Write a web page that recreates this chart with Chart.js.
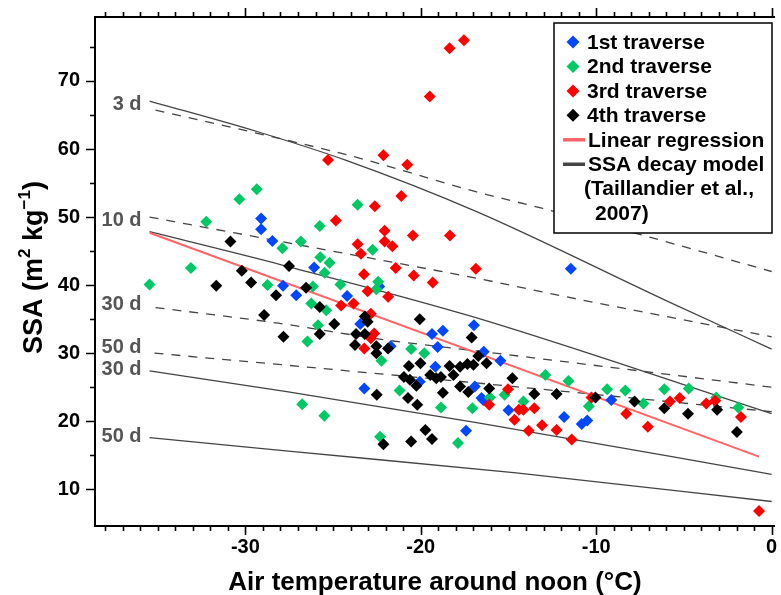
<!DOCTYPE html>
<html>
<head>
<meta charset="utf-8">
<title>SSA vs air temperature</title>
<script src="https://cdn.jsdelivr.net/npm/chart.js@4.4.1/dist/chart.umd.min.js"></script>
<style>
  html, body { margin: 0; padding: 0; background: #fff; }
  #wrap { width: 781px; height: 595px; position: relative; }
</style>
</head>
<body>
<div id="wrap"><canvas id="chartSSA"></canvas></div>
<script>
// values: air temperature around noon (°C) / SSA (m2 kg-1)
const tempT1 = [-29.1, -29.1, -28.46, -27.85, -27.1, -26.08, -24.2, -22.37, -23.45, -21.72, -19.36, -18.74, -19.04, -16.97, -19.17, -20.06, -16.92, -23.22, -17.42, -16.44, -15.0, -16.41, -15.46, -16.54, -11.83, -10.83, -10.51, -9.14, -11.45];
const ssaT1 = [49.8, 48.2, 46.5, 39.9, 38.5, 42.6, 38.4, 39.8, 34.3, 31.0, 32.8, 33.3, 30.9, 34.1, 28.0, 25.8, 25.1, 24.8, 18.6, 23.1, 21.6, 30.2, 28.9, 23.4, 20.6, 19.6, 20.1, 23.1, 42.4];

const tempT2 = [-29.35, -30.34, -32.23, -33.1, -35.46, -28.74, -27.89, -23.6, -25.76, -26.84, -22.75, -25.73, -25.2, -25.48, -24.58, -22.43, -22.54, -26.15, -26.24, -25.39, -25.86, -26.46, -22.24, -20.55, -19.8, -21.21, -18.85, -17.06, -26.76, -25.5, -17.88, -22.32, -12.9, -11.58, -16.06, -15.22, -14.15, -10.42, -9.38, -8.34, -7.31, -6.12, -4.73, -3.16, -1.9];
const ssaT2 = [54.1, 52.6, 49.3, 42.5, 40.1, 40.0, 45.4, 51.8, 48.7, 46.4, 45.2, 44.1, 43.3, 41.8, 40.1, 40.5, 39.4, 39.8, 37.3, 36.3, 34.1, 31.7, 28.9, 30.6, 30.0, 24.5, 22.0, 21.9, 22.5, 20.8, 16.8, 17.7, 26.8, 25.9, 23.5, 23.9, 22.9, 22.2, 24.7, 24.5, 22.6, 24.7, 24.8, 23.5, 22.0];

const tempT3 = [-17.54, -18.36, -19.49, -22.13, -25.29, -20.77, -21.11, -22.62, -24.84, -22.06, -20.45, -18.34, -22.06, -21.62, -23.6, -23.41, -21.43, -23.24, -20.4, -19.32, -16.86, -23.03, -21.86, -24.54, -23.83, -22.85, -22.66, -22.85, -23.22, -16.1, -14.66, -15.03, -14.41, -14.15, -13.53, -13.85, -13.09, -12.26, -11.4, -10.27, -8.29, -7.06, -5.8, -5.24, -3.73, -3.22, -1.75, -0.72];
const ssaT3 = [76.0, 74.8, 67.7, 59.1, 58.4, 57.7, 53.1, 51.6, 49.5, 48.0, 47.3, 47.3, 46.4, 45.7, 46.0, 44.6, 42.5, 41.6, 41.4, 40.4, 42.4, 39.1, 38.3, 37.0, 37.3, 35.8, 32.9, 32.2, 30.7, 22.4, 20.2, 24.7, 21.7, 21.7, 21.9, 18.6, 19.4, 18.7, 17.3, 23.5, 21.1, 19.2, 22.9, 23.4, 22.6, 23.0, 20.6, 6.8];

const tempT4 = [-30.85, -30.2, -29.67, -31.66, -28.25, -28.93, -27.51, -26.54, -25.76, -23.19, -20.06, -27.83, -24.93, -25.76, -23.03, -23.69, -23.19, -23.75, -22.53, -22.53, -21.87, -17.1, -20.68, -20.02, -18.36, -20.96, -20.62, -20.25, -19.46, -19.12, -18.85, -18.14, -17.76, -17.34, -17.76, -17.29, -22.51, -20.73, -20.2, -18.74, -19.74, -19.36, -20.55, -22.13, -16.72, -16.25, -17.0, -14.78, -16.1, -13.53, -12.26, -10.04, -7.82, -6.12, -4.77, -3.11, -1.98];
const ssaT4 = [46.4, 42.1, 40.4, 39.9, 38.5, 35.6, 42.8, 39.6, 36.8, 35.4, 35.0, 32.4, 34.3, 32.8, 34.6, 32.8, 32.8, 31.2, 31.0, 30.0, 30.7, 32.3, 28.1, 28.5, 28.1, 26.5, 26.1, 25.2, 26.8, 26.3, 26.5, 26.8, 28.0, 28.4, 25.1, 24.3, 23.9, 23.4, 22.4, 24.2, 18.7, 17.4, 17.0, 16.6, 29.6, 28.5, 28.3, 26.3, 24.8, 24.0, 24.0, 23.5, 22.9, 21.9, 21.1, 21.7, 18.4];

// linear regression end points
const regT = [-35.46, -0.72];
const regS = [47.7, 14.8];

// SSA decay model curves (Taillandier et al., 2007)
const m3dT = [-35.46, -29.25, -24.33, -16.82, -6.08, 0];
const m3dS = [67.05, 62.5, 58.4, 50.8, 37.8, 30.6];
const m3dDashT = [-35.12, -29.81, -23.7, -16.82, -13.1, -6.75, 0];
const m3dDashS = [65.7, 62.6, 58.8, 53.7, 51.3, 46.9, 42.0];
const m10dDashT = [-35.46, -27.55, -16.82, -10.79, 0];
const m10dDashS = [50.0, 46.2, 41.0, 37.8, 32.4];
const m10dT = [-35.46, -27.9, -17.1, 0];
const m10dS = [47.85, 42.95, 35.4, 21.1];
const m30dDashT = [-35.12, -28.12, -21.9, -17.37, 0];
const m30dDashS = [36.7, 34.4, 31.9, 30.5, 25.0];
const m50dDashT = [-35.18, -27.95, -17.55, 0];
const m50dDashS = [30.0, 28.3, 25.8, 21.4];
const m30dT = [-35.46, -27.55, -16.82, 0];
const m30dS = [27.4, 24.3, 19.8, 12.2];
const m50dT = [-35.46, -27.55, -14.56, 0];
const m50dS = [17.6, 15.6, 12.4, 8.2];

const xTicks = [-30, -20, -10, 0];
const yTicks = [10, 20, 30, 40, 50, 60, 70];

const FONT = '"Liberation Sans", Arial, Helvetica, sans-serif';
Chart.defaults.font.family = FONT;

const pts = (t, s) => t.map((v, i) => ({ x: v, y: s[i] }));

function traverse(label, t, s, color, order) {
  return {
    type: "scatter", label: label, data: pts(t, s),
    backgroundColor: color, borderWidth: 0,
    pointStyle: "rectRot", pointRadius: 6, pointHoverRadius: 6, order: order
  };
}

function model(label, t, s, dashed, dayLabel, shift) {
  return {
    type: "line", label: label, data: pts(t, s),
    borderColor: "#444", borderWidth: 1.3, borderDash: dashed ? [9, 8] : [],
    pointRadius: 0, fill: false, cubicInterpolationMode: "monotone",
    order: 10, dayLabel: dayLabel, labelShift: shift
  };
}

// frame with outward ticks on bottom/left and ticks on top
const frame = {
  id: "frame",
  afterDraw(chart) {
    const { ctx, chartArea: a, scales: { x, y } } = chart;
    ctx.save();
    ctx.strokeStyle = "#000";
    ctx.lineWidth = 2;
    ctx.beginPath();
    ctx.moveTo(a.right, a.top); ctx.lineTo(a.left, a.top);
    ctx.lineTo(a.left, a.bottom); ctx.lineTo(a.right, a.bottom);
    ctx.stroke();
    ctx.lineWidth = 1.6;
    ctx.beginPath();
    for (let v = Math.ceil(x.min); v <= x.max; v++) {
      const px = Math.round(x.getPixelForValue(v)) + 0.5;
      const len = v % 10 === 0 ? 9 : 5;
      ctx.moveTo(px, a.bottom); ctx.lineTo(px, a.bottom + len);
      ctx.moveTo(px, a.top); ctx.lineTo(px, a.top - len);
    }
    for (let v = 10; v <= y.max; v += 5) {
      const py = Math.round(y.getPixelForValue(v)) + 0.5;
      const len = v % 10 === 0 ? 9 : 5;
      ctx.moveTo(a.left, py); ctx.lineTo(a.left - len, py);
    }
    ctx.stroke();
    ctx.restore();
  }
};

// "3 d", "10 d" ... next to the model curves
const dayLabels = {
  id: "dayLabels",
  afterDatasetsDraw(chart) {
    const { ctx, scales: { x, y } } = chart;
    ctx.save();
    ctx.font = "bold 20px " + FONT;
    ctx.fillStyle = "#555";
    ctx.textAlign = "right";
    ctx.textBaseline = "middle";
    chart.data.datasets.forEach(ds => {
      if (!ds.dayLabel) return;
      ctx.fillText(ds.dayLabel, x.getPixelForValue(m3dT[0]) - 8, y.getPixelForValue(ds.data[0].y) + ds.labelShift);
    });
    ctx.restore();
  }
};

// y title with superscripts
const yTitle = {
  id: "yTitle",
  afterDraw(chart) {
    const ctx = chart.ctx;
    const big = "bold 27px " + FONT, small = "bold 17px " + FONT;
    const parts = [["SSA (m", big, 0], ["2", small, -12], [" kg", big, 0], ["\u22121", small, -12], [")", big, 0]];
    ctx.save();
    ctx.translate(42, chart.chartArea.top + (chart.chartArea.bottom - chart.chartArea.top) / 2 - 4);
    ctx.rotate(-Math.PI / 2);
    ctx.fillStyle = "#000";
    ctx.textBaseline = "alphabetic";
    let w = 0;
    parts.forEach(p => { ctx.font = p[1]; w += ctx.measureText(p[0]).width; });
    let cx = -w / 2;
    parts.forEach(p => { ctx.font = p[1]; ctx.fillText(p[0], cx, p[2]); cx += ctx.measureText(p[0]).width; });
    ctx.restore();
  }
};

// boxed legend in the upper right corner
const legendBox = {
  id: "legendBox",
  afterDraw(chart) {
    const ctx = chart.ctx;
    const ds = chart.data.datasets;
    const left = 554, top = 23, w = 218, h = 210, step = 24.45, y0 = 42;
    ctx.save();
    ctx.fillStyle = "#fff";
    ctx.fillRect(left, top, w, h);
    ctx.strokeStyle = "#000";
    ctx.lineWidth = 1.5;
    ctx.strokeRect(left, top, w, h);
    ctx.font = "bold 21px " + FONT;
    ctx.textBaseline = "middle";
    ctx.textAlign = "left";
    for (let i = 0; i < 4; i++) {
      const cy = y0 + step * i;
      ctx.fillStyle = ds[i].backgroundColor;
      ctx.beginPath();
      ctx.moveTo(573, cy - 6.5); ctx.lineTo(579.5, cy); ctx.lineTo(573, cy + 6.5); ctx.lineTo(566.5, cy);
      ctx.closePath(); ctx.fill();
      ctx.fillStyle = "#000";
      ctx.fillText(ds[i].label, 587, cy + 1);
    }
    const lines = [[ds[4].borderColor, "Linear regression"], ["#444", "SSA decay model"]];
    lines.forEach((l, j) => {
      const cy = y0 + step * (4 + j);
      ctx.strokeStyle = l[0]; ctx.lineWidth = 3.5;
      ctx.beginPath(); ctx.moveTo(563, cy); ctx.lineTo(585, cy); ctx.stroke();
      ctx.fillStyle = "#000";
      ctx.fillText(l[1], 588, cy + 1);
    });
    ctx.fillText("(Taillandier et al.,", 584, y0 + step * 6 + 1);
    ctx.fillText("2007)", 595, y0 + step * 7 + 1);
    ctx.restore();
  }
};

const ctx = document.getElementById("chartSSA");
new Chart(ctx, {
  type: "scatter",
  data: {
    datasets: [
      traverse("1st traverse", tempT1, ssaT1, "#0047ff", 4),
      traverse("2nd traverse", tempT2, ssaT2, "#00c864", 3),
      traverse("3rd traverse", tempT3, ssaT3, "#ff0000", 2),
      traverse("4th traverse", tempT4, ssaT4, "#000000", 1),
      {
        type: "line", label: "Linear regression", data: pts(regT, regS),
        borderColor: "#ff6464", borderWidth: 2, pointRadius: 0, fill: false, order: 9
      },
      model("SSA decay model 3 d", m3dT, m3dS, false, "3 d", 3),
      model("3 d dashed", m3dDashT, m3dDashS, true),
      model("10 d dashed", m10dDashT, m10dDashS, true, "10 d", 3),
      model("10 d", m10dT, m10dS, false),
      model("30 d dashed", m30dDashT, m30dDashS, true, "30 d", -3),
      model("50 d dashed", m50dDashT, m50dDashS, true, "50 d", -6),
      model("30 d", m30dT, m30dS, false, "30 d", -1),
      model("50 d", m50dT, m50dS, false, "50 d", -1)
    ]
  },
  options: {
    responsive: true,
    maintainAspectRatio: false,
    animation: false,
    layout: { padding: { top: 17, right: 0, bottom: 0, left: 0 } },
    plugins: { legend: { display: false }, tooltip: { enabled: false } },
    scales: {
      x: {
        type: "linear", min: -38.57, max: 0.19,
        afterBuildTicks: s => { s.ticks = xTicks.map(v => ({ value: v })); },
        afterFit: s => { s.height = 69; s.paddingLeft = 0; s.paddingRight = 0; },
        grid: { display: false, drawTicks: false },
        border: { display: false },
        ticks: { color: "#000", font: { size: 20, weight: "bold" }, padding: 9, maxRotation: 0, autoSkip: false },
        title: {
          display: true, text: "Air temperature around noon (°C)", color: "#000",
          font: { size: 26, weight: "bold", lineHeight: 0.9 }, padding: 0
        }
      },
      y: {
        type: "linear", min: 4.6, max: 79.4,
        afterBuildTicks: s => { s.ticks = yTicks.map(v => ({ value: v })); },
        afterFit: s => { s.width = 95; s.paddingTop = 0; s.paddingBottom = 0; },
        grid: { display: false, drawTicks: false },
        border: { display: false },
        ticks: { color: "#000", font: { size: 20, weight: "bold" }, padding: 15 }
      }
    }
  },
  plugins: [dayLabels, frame, yTitle, legendBox]
});
</script>
</body>
</html>
